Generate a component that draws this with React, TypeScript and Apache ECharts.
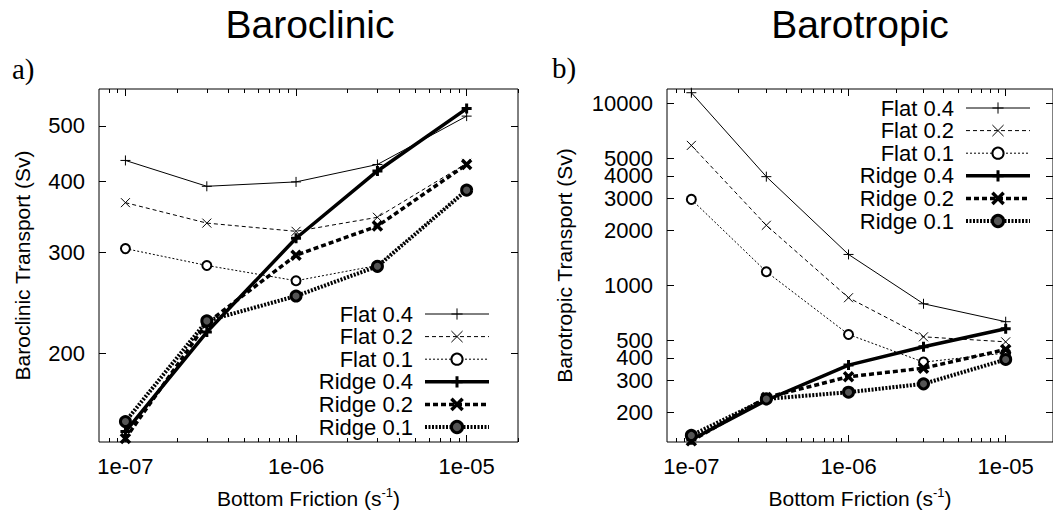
import React, { useEffect, useRef } from 'react';
import * as echarts from 'echarts';

// ---------- data ----------
const friction = [1e-7, 3e-7, 1e-6, 3e-6, 1e-5];
const seriesNames = ['Flat 0.4', 'Flat 0.2', 'Flat 0.1', 'Ridge 0.4', 'Ridge 0.2', 'Ridge 0.1'];

const baroclinicFlat04 = [435, 392, 399, 428, 520];
const baroclinicFlat02 = [367, 338, 327, 346, 430];
const baroclinicFlat01 = [305, 285, 268, 285, 386];
const baroclinicRidge04 = [146, 218, 318, 417, 536];
const baroclinicRidge02 = [142, 226, 297, 334, 428];
const baroclinicRidge01 = [152, 228, 252, 284, 386];

const barotropicFlat04 = [11450, 3960, 1480, 793, 632];
const barotropicFlat02 = [5880, 2140, 856, 522, 490];
const barotropicFlat01 = [2970, 1190, 538, 379, 425];
const barotropicRidge04 = [142, 234, 365, 460, 578];
const barotropicRidge02 = [140, 242, 315, 351, 445];
const barotropicRidge01 = [150, 238, 259, 288, 392];

const xMajorTicks = [1e-7, 1e-6, 1e-5];
const xMinorTicks = [
  8e-8, 9e-8,
  2e-7, 3e-7, 4e-7, 5e-7, 6e-7, 7e-7, 8e-7, 9e-7,
  2e-6, 3e-6, 4e-6, 5e-6, 6e-6, 7e-6, 8e-6, 9e-6,
  2e-5,
];
const baroclinicYTicks = [200, 300, 400, 500];
const barotropicYTicks = [200, 300, 400, 500, 1000, 2000, 3000, 4000, 5000, 10000];

const xRange = [7e-8, 2e-5];
const baroclinicYRange = [140, 580];
const barotropicYRange = [138, 12000];

// ---------- styles ----------
const FONT = 'Liberation Sans, Arial, Helvetica, sans-serif';
const PLUS = 'path://M0,5L10,5M5,0L5,10';
const CROSS = 'path://M0,0L10,10M10,0L0,10';

const seriesStyles = [
  { lw: 1, type: 'solid', symbol: PLUS, size: 10, fill: '#000', bw: 1 },
  { lw: 1, type: [4, 3], symbol: CROSS, size: 9, fill: '#000', bw: 1 },
  { lw: 1, type: [2, 2], symbol: 'emptyCircle', size: 9, fill: '#000', bw: 1 },
  { lw: 3.5, type: 'solid', symbol: PLUS, size: 10, fill: '#000', bw: 3 },
  { lw: 3.5, type: [5, 3], symbol: CROSS, size: 9, fill: '#000', bw: 3.5 },
  { lw: 4, type: [2, 1.5], symbol: 'circle', size: 10, fill: '#555', bw: 3 },
];

function xLabel(v: number) {
  const e = Math.round(Math.log10(v));
  return '1e' + (e < 0 ? '-' : '+') + String(Math.abs(e)).padStart(2, '0');
}

function makeSeries(values: number[][], xIdx: number, yIdx: number) {
  return values.map((vals, i) => {
    const s = seriesStyles[i];
    return {
      type: 'line',
      name: seriesNames[i],
      xAxisIndex: xIdx,
      yAxisIndex: yIdx,
      data: friction.map((f, j) => [f, vals[j]]),
      color: '#000',
      symbol: s.symbol,
      symbolSize: s.size,
      showAllSymbol: true,
      lineStyle: { color: '#000', width: s.lw, type: s.type },
      itemStyle: { color: s.fill, borderColor: '#000', borderWidth: s.bw },
      emphasis: { disabled: true },
      z: 2 + i,
    };
  });
}

function makeXAxes(gridIndex: number) {
  const base = {
    type: 'log',
    gridIndex,
    min: xRange[0],
    max: xRange[1],
    splitLine: { show: false },
    axisLine: { show: false, onZero: false },
  };
  return [
    {
      ...base,
      position: 'bottom',
      axisTick: { show: true, inside: true, length: 7, customValues: xMajorTicks, lineStyle: { color: '#000', width: 1 } },
      axisLabel: { customValues: xMajorTicks, formatter: xLabel, margin: 13, fontSize: 22, color: '#000', fontFamily: FONT },
      name: '{n|Bottom Friction (s}{s|-1}{n|)}',
      nameLocation: 'middle',
      nameGap: 44,
      nameTextStyle: {
        rich: {
          n: { fontSize: 21, fontFamily: FONT, color: '#000' },
          s: { fontSize: 13, fontFamily: FONT, color: '#000', padding: [0, 0, 12, 0] },
        },
      },
    },
    {
      ...base,
      position: 'bottom',
      axisTick: { show: true, inside: true, length: 4, customValues: xMinorTicks, lineStyle: { color: '#000', width: 1 } },
      axisLabel: { show: false },
    },
    {
      ...base,
      position: 'top',
      axisTick: { show: true, inside: true, length: 7, customValues: xMajorTicks, lineStyle: { color: '#000', width: 1 } },
      axisLabel: { show: false },
    },
    {
      ...base,
      position: 'top',
      axisTick: { show: true, inside: true, length: 4, customValues: xMinorTicks, lineStyle: { color: '#000', width: 1 } },
      axisLabel: { show: false },
    },
  ];
}

function makeYAxes(gridIndex: number, range: number[], ticks: number[], name: string, nameGap: number) {
  const base = {
    type: 'log',
    gridIndex,
    min: range[0],
    max: range[1],
    splitLine: { show: false },
    axisLine: { show: false, onZero: false },
  };
  return [
    {
      ...base,
      position: 'left',
      axisTick: { show: true, inside: true, length: 7, customValues: ticks, lineStyle: { color: '#000', width: 1 } },
      axisLabel: {
        customValues: ticks,
        formatter: (v: number) => String(Math.round(v)),
        margin: 14,
        fontSize: 22,
        lineHeight: 16,
        color: '#000',
        fontFamily: FONT,
      },
      name,
      nameLocation: 'middle',
      nameGap,
      nameTextStyle: { fontSize: 21, fontFamily: FONT, color: '#000' },
    },
    {
      ...base,
      position: 'right',
      axisTick: { show: true, inside: true, length: 7, customValues: ticks, lineStyle: { color: '#000', width: 1 } },
      axisLabel: { show: false },
    },
  ];
}

function makeLegend(right: number, top: number) {
  return {
    data: seriesNames.map((name, i) => {
      const s = seriesStyles[i];
      return {
        name,
        lineStyle: { color: '#000', width: s.lw, type: s.type },
        itemStyle: { color: s.fill, borderColor: '#000', borderWidth: s.bw },
      };
    }),
    orient: 'vertical',
    align: 'right',
    right,
    top,
    padding: 0,
    itemWidth: 64,
    itemHeight: 14,
    itemGap: 0.6,
    selectedMode: false,
    textStyle: { fontSize: 22, lineHeight: 20, fontFamily: FONT, color: '#000', padding: [0, 7, 0, 0] },
  };
}

export default function App() {
  const ref = useRef<HTMLDivElement>(null);
  useEffect(() => {
    if (!ref.current) return;
    const chart = echarts.init(ref.current, undefined, { renderer: 'svg' });
    const option = {
      animation: false,
      backgroundColor: '#fff',
      grid: [
        { left: 99, top: 89, width: 419, height: 353, show: true, borderColor: '#000', borderWidth: 1, backgroundColor: 'transparent' },
        { left: 667, top: 89, width: 390, height: 353, show: true, borderColor: '#000', borderWidth: 1, backgroundColor: 'transparent' },
      ],
      xAxis: [...makeXAxes(0), ...makeXAxes(1)],
      yAxis: [
        ...makeYAxes(0, baroclinicYRange, baroclinicYTicks, 'Baroclinic Transport (Sv)', 66),
        ...makeYAxes(1, barotropicYRange, barotropicYTicks, 'Barotropic Transport (Sv)', 92),
      ],
      legend: [makeLegend(562, 303), makeLegend(21, 97)],
      graphic: [
        { type: 'text', x: 310, y: 24, style: { text: 'Baroclinic', fontSize: 39, fontFamily: FONT, fill: '#000', align: 'center', verticalAlign: 'middle' } },
        { type: 'text', x: 860, y: 24, style: { text: 'Barotropic', fontSize: 39, fontFamily: FONT, fill: '#000', align: 'center', verticalAlign: 'middle' } },
        { type: 'text', x: 12, y: 69, style: { text: 'a)', fontSize: 29, fontFamily: 'Liberation Serif, Times New Roman, serif', fill: '#000', align: 'left', verticalAlign: 'middle' } },
        { type: 'text', x: 552, y: 68, style: { text: 'b)', fontSize: 29, fontFamily: 'Liberation Serif, Times New Roman, serif', fill: '#000', align: 'left', verticalAlign: 'middle' } },
      ],
      series: [
        ...makeSeries(
          [baroclinicFlat04, baroclinicFlat02, baroclinicFlat01, baroclinicRidge04, baroclinicRidge02, baroclinicRidge01],
          0,
          0
        ),
        ...makeSeries(
          [barotropicFlat04, barotropicFlat02, barotropicFlat01, barotropicRidge04, barotropicRidge02, barotropicRidge01],
          4,
          2
        ),
      ],
    };
    chart.setOption(option as any);
    return () => chart.dispose();
  }, []);
  return (
    <div
      ref={ref}
      style={{ position: 'fixed', left: 0, top: 0, width: 1053, height: 514, background: '#fff' }}
    />
  );
}
